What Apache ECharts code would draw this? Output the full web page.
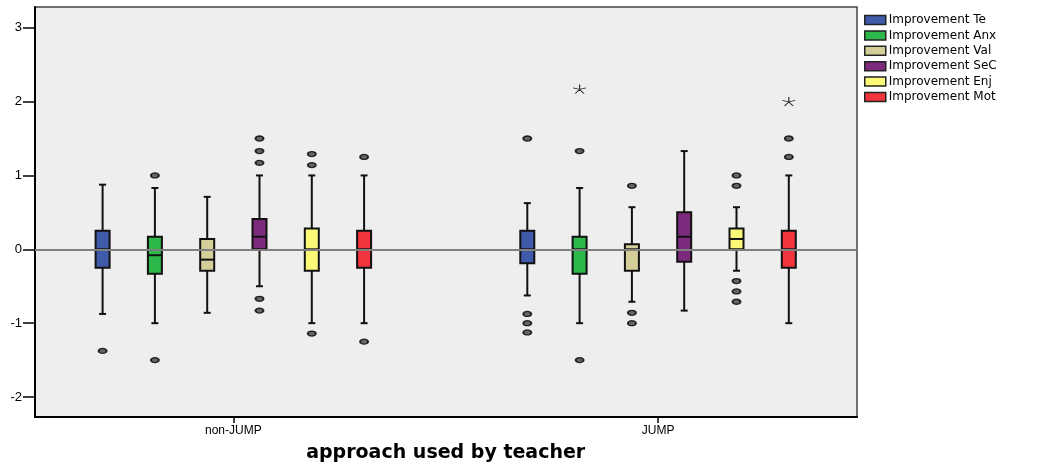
<!DOCTYPE html>
<html><head><meta charset="utf-8">
<script src="https://cdn.jsdelivr.net/npm/echarts@6/dist/echarts.min.js"></script>
<style>html,body{margin:0;padding:0;background:#fff}#c{width:1042px;height:462px}</style>
</head><body><div id="c"></div>
<script>
// ---- data ----
const categories = ['non-JUMP', 'JUMP'];
const seriesNames = ['Improvement Te', 'Improvement Anx', 'Improvement Val', 'Improvement SeC', 'Improvement Enj', 'Improvement Mot'];
const seriesColors = ['#3f5aa9', '#2db84b', '#d4cf98', '#7c2a7c', '#fcf977', '#f1343d'];
const yMin = -2.27, yMax = 3.28;

// [min, Q1, median, Q3, max] per category
const teBox  = [[-0.875, -0.25, 0, 0.25, 0.875], [-0.625, -0.19, 0, 0.25, 0.625]];
const anxBox = [[-1.0, -0.33, -0.08, 0.17, 0.83], [-1.0, -0.33, 0, 0.17, 0.83]];
const valBox = [[-0.86, -0.29, -0.14, 0.14, 0.71], [-0.71, -0.29, 0, 0.07, 0.57]];
const secBox = [[-0.5, 0, 0.17, 0.41, 1.0], [-0.83, -0.17, 0.17, 0.5, 1.33]];
const enjBox = [[-1.0, -0.29, 0, 0.28, 1.0], [-0.29, 0, 0.14, 0.28, 0.57]];
const motBox = [[-1.0, -0.25, 0, 0.25, 1.0], [-1.0, -0.25, 0, 0.25, 1.0]];

// outliers [categoryIndex, value]
const teOut  = [[0, -1.375], [1, 1.5], [1, -0.875], [1, -1.0], [1, -1.125]];
const anxOut = [[0, 1.0], [0, -1.5], [1, 1.33], [1, -1.5]];
const valOut = [[1, 0.86], [1, -0.86], [1, -1.0]];
const secOut = [[0, 1.5], [0, 1.33], [0, 1.17], [0, -0.67], [0, -0.83]];
const enjOut = [[0, 1.29], [0, 1.14], [0, -1.14], [1, 1.0], [1, 0.86], [1, -0.43], [1, -0.57], [1, -0.71]];
const motOut = [[0, 1.25], [0, -1.25], [1, 1.5], [1, 1.25]];

// extremes (asterisks) [categoryIndex, value]
const teExt = [], anxExt = [[1, 2.17]], valExt = [], secExt = [], enjExt = [], motExt = [[1, 2.0]];

const boxes = [teBox, anxBox, valBox, secBox, enjBox, motBox];
const outs = [teOut, anxOut, valOut, secOut, enjOut, motOut];
const exts = [teExt, anxExt, valExt, secExt, enjExt, motExt];

// ---- layout ----
const STEP = 52.3;
const offsets = seriesNames.map((_, i) => (i - 2.5) * STEP);

function makeRender(offset, color) {
  return function (params, api) {
    const c = api.value(0);
    const pt = (v) => api.coord([c, v]);
    const x = pt(api.value(1))[0] + offset;
    const y0 = pt(api.value(1))[1], y1 = pt(api.value(2))[1], y2 = pt(api.value(3))[1],
          y3 = pt(api.value(4))[1], y4 = pt(api.value(5))[1];
    const hw = 7, cw = 3.5;
    const ls = { stroke: '#111', lineWidth: 2 };
    return { type: 'group', children: [
      { type: 'line', shape: { x1: x, y1: y4, x2: x, y2: y3 }, style: ls },
      { type: 'line', shape: { x1: x, y1: y1, x2: x, y2: y0 }, style: ls },
      { type: 'line', shape: { x1: x - cw, y1: y4, x2: x + cw, y2: y4 }, style: ls },
      { type: 'line', shape: { x1: x - cw, y1: y0, x2: x + cw, y2: y0 }, style: ls },
      { type: 'rect', shape: { x: x - hw, y: y3, width: hw * 2, height: y1 - y3 }, style: { fill: color, stroke: '#111', lineWidth: 2 } },
      { type: 'line', shape: { x1: x - hw, y1: y2, x2: x + hw, y2: y2 }, style: ls }
    ] };
  };
}

const series = [{
  type: 'line', xAxisIndex: 0, yAxisIndex: 0, data: [], z: 1, silent: true,
  markLine: { silent: true, symbol: 'none', label: { show: false },
    lineStyle: { color: '#808080', width: 2, type: 'solid' }, data: [{ yAxis: 0 }] }
}];
seriesNames.forEach((name, i) => {
  series.push({
    type: 'custom', name, xAxisIndex: 1, yAxisIndex: 1, z: 3,
    renderItem: makeRender(offsets[i], seriesColors[i]),
    encode: { x: 0, y: [1, 2, 3, 4, 5] },
    itemStyle: { color: seriesColors[i] },
    data: boxes[i].map((b, ci) => [ci].concat(b))
  });
  series.push({
    type: 'scatter', name, xAxisIndex: 1, yAxisIndex: 1, z: 4,
    symbol: 'circle', symbolSize: [8, 5], symbolOffset: [offsets[i], 0],
    itemStyle: { color: '#444', borderColor: '#000', borderWidth: 1.6 },
    data: outs[i]
  });
  series.push({
    type: 'scatter', name, xAxisIndex: 1, yAxisIndex: 1, z: 4,
    symbol: 'path://M6,0L6,6M6,6L0,4M6,6L12,4M6,6L2,11M6,6L10,11',
    symbolSize: [13, 9], symbolOffset: [offsets[i], 0],
    itemStyle: { color: 'none', borderColor: '#000', borderWidth: 1 },
    data: exts[i]
  });
});

const chart = echarts.init(document.getElementById('c'), null, { renderer: 'canvas' });
chart.setOption({
  animation: false,
  backgroundColor: '#ffffff',
  grid: [
    { left: 35, top: 7, width: 822, height: 410, show: true, backgroundColor: '#eeeeee', borderColor: '#444', borderWidth: 1.5, outerBoundsMode: 'none', containLabel: false },
    { left: 21, top: 7, width: 849.4, height: 410, outerBoundsMode: 'none', containLabel: false }
  ],
  xAxis: [
    { gridIndex: 0, type: 'value', min: 0, max: 1, axisLine: { show: true, onZero: false, lineStyle: { color: '#000', width: 2 } },
      axisTick: { show: false }, axisLabel: { show: false }, splitLine: { show: false } },
    { gridIndex: 1, type: 'category', data: categories, boundaryGap: true,
      axisLine: { show: false, onZero: false }, axisTick: { show: true, alignWithLabel: true, length: 6, lineStyle: { color: '#000', width: 1.5 } },
      axisLabel: { margin: 8, fontSize: 12, color: '#000', fontFamily: 'Liberation Sans' },
      splitLine: { show: false },
      name: 'approach used by teacher', nameLocation: 'middle', nameGap: 27,
      nameTextStyle: { fontSize: 19, fontWeight: 'bold', color: '#000', fontFamily: 'DejaVu Sans' } }
  ],
  yAxis: [
    { gridIndex: 0, type: 'value', min: yMin, max: yMax,
      axisLine: { show: true, lineStyle: { color: '#000', width: 2 } },
      axisTick: { show: true, length: 12, lineStyle: { color: '#000', width: 1.5 } },
      axisLabel: { margin: 13, fontSize: 13, color: '#000', fontFamily: 'Liberation Sans', showMinLabel: false, showMaxLabel: false },
      splitLine: { show: false } },
    { gridIndex: 1, type: 'value', min: yMin, max: yMax, show: false, splitLine: { show: false } }
  ],
  legend: {
    orient: 'vertical', left: 859, top: 9, itemWidth: 21, itemHeight: 9, itemGap: 3.4,
    selectedMode: false, icon: 'rect',
    textStyle: { fontSize: 12, color: '#000', fontFamily: 'DejaVu Sans', padding: [0, 0, 0, -2] },
    data: seriesNames.map((n, i) => ({ name: n, itemStyle: { color: seriesColors[i], borderColor: '#222', borderWidth: 1.5 } }))
  },
  series
});
</script></body></html>
